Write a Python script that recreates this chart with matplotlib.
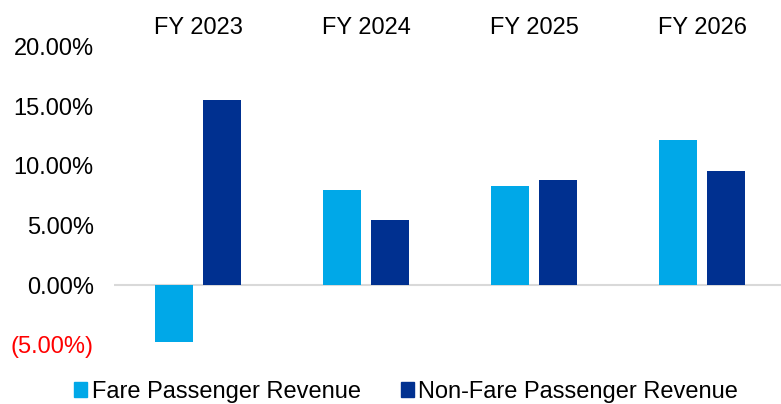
import numpy as np
import matplotlib.pyplot as plt
from matplotlib.patches import Patch

plt.rcParams['font.family'] = ['Liberation Sans', 'DejaVu Sans']

years = ["FY 2023", "FY 2024", "FY 2025", "FY 2026"]
fare = [-4.75, 8.0, 8.3, 12.2]
non_fare = [15.5, 5.45, 8.8, 9.55]
y_ticks = [-5, 0, 5, 10, 15, 20]

light_blue = "#00A8E8"
dark_blue = "#003090"

fig = plt.figure(figsize=(7.81, 4.04), dpi=100)
ax = fig.add_axes([114 / 781, 0.147, 672 / 781, 0.737])

x = np.arange(len(years))
w = 0.226
off = 0.143
ax.bar(x - off, fare, w, color=light_blue, label="Fare Passenger Revenue")
ax.bar(x + off, non_fare, w, color=dark_blue, label="Non-Fare Passenger Revenue")

ax.axhline(0, color="#d9d9d9", lw=1.5, zorder=0)
ax.set_xlim(-0.5, len(years) - 0.5)
ax.set_ylim(-5, 20)

for s in ax.spines.values():
    s.set_visible(False)

# category labels sit on top
ax.xaxis.tick_top()
ax.set_xticks(x)
ax.set_xticklabels(years, fontsize=17)
ax.tick_params(axis="x", length=0, pad=5.5)

def fmt(v):
    return f"({abs(v):.2f}%)" if v < 0 else f"{v:.2f}%"

ax.set_yticks(y_ticks)
ax.set_yticklabels([fmt(v) for v in y_ticks], fontsize=17)
ax.tick_params(axis="y", length=0, pad=14.5)
for lbl, v in zip(ax.get_yticklabels(), y_ticks):
    if v < 0:
        lbl.set_color("red")

handles = [Patch(color=light_blue), Patch(color=dark_blue)]
fig.legend(handles, ["Fare Passenger Revenue", "Non-Fare Passenger Revenue"],
           loc="center", bbox_to_anchor=(0.52, 0.03), ncol=2, frameon=False,
           fontsize=17, handlelength=0.55, handleheight=0.55, handletextpad=0.2,
           columnspacing=1.7, borderpad=0)

fig.savefig("out.png", dpi=100)
